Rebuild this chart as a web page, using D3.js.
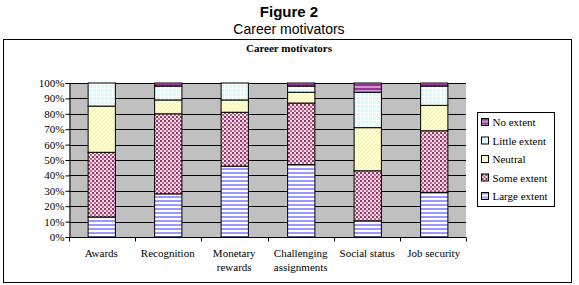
<!DOCTYPE html>
<html>
<head>
<meta charset="utf-8">
<script src="https://cdn.jsdelivr.net/npm/d3@7"></script>
<style>
  body { margin: 0; background: #fff; }
  svg { display: block; }
</style>
</head>
<body>
<div id="chart"></div>
<script>
const categories = [['Awards'], ['Recognition'], ['Monetary', 'rewards'], ['Challenging', 'assignments'], ['Social status'], ['Job security']];
const seriesNames = ['Large extent', 'Some extent', 'Neutral', 'Little extent', 'No extent'];
const largeExtent = [13, 28, 46, 47, 10.5, 29];
const someExtent = [42, 52, 35, 40, 32.5, 40];
const neutral = [30, 9, 8, 7, 28, 16.5];
const littleExtent = [15, 9, 11, 4, 23, 12.5];
const noExtent = [0, 2, 0, 2, 6, 2];
const yTicks = [0, 10, 20, 30, 40, 50, 60, 70, 80, 90, 100];

const width = 579;
const height = 285;
const plot = { left: 69, right: 466, top: 83, bottom: 237 };

const svg = d3.select('#chart').append('svg').attr('width', width).attr('height', height);
const defs = svg.append('defs');

// fill patterns, roughly like the old office ones
function pattern(id, size, bg, draw) {
  const p = defs.append('pattern').attr('id', id).attr('patternUnits', 'userSpaceOnUse')
    .attr('width', size).attr('height', size);
  p.append('rect').attr('width', size).attr('height', size).attr('fill', bg);
  draw(p);
}
pattern('pLarge', 4, '#ffffff', p => p.append('rect').attr('y', 0).attr('width', 4).attr('height', 2).attr('fill', '#9999ff'));
pattern('pSome', 4, '#f3dbe6', p => {
  p.append('rect').attr('x', 0).attr('y', 0).attr('width', 2).attr('height', 2).attr('fill', '#993366');
  p.append('rect').attr('x', 2).attr('y', 2).attr('width', 2).attr('height', 2).attr('fill', '#b9668e');
});
pattern('pNeutral', 4, '#ffffcc', p => p.append('path').attr('d', 'M0,4 L4,0').attr('stroke', '#f0f0c0').attr('stroke-width', 1));
pattern('pLittle', 4, '#ccffff', p => {
  p.append('rect').attr('width', 4).attr('height', 1).attr('fill', '#ffffff');
  p.append('rect').attr('width', 1).attr('height', 4).attr('fill', '#ffffff');
});
pattern('pNo', 4, '#cc99cc', p => p.append('rect').attr('width', 4).attr('height', 2).attr('fill', '#993399'));
const fills = ['url(#pLarge)', 'url(#pSome)', 'url(#pNeutral)', 'url(#pLittle)', 'url(#pNo)'];

// headings
svg.append('text').attr('x', 289).attr('y', 17).attr('text-anchor', 'middle')
  .attr('font-family', 'Liberation Sans, Arial, sans-serif').attr('font-size', 15).attr('font-weight', 'bold')
  .text('Figure 2');
svg.append('text').attr('x', 289).attr('y', 34).attr('text-anchor', 'middle')
  .attr('font-family', 'Liberation Sans, Arial, sans-serif').attr('font-size', 14)
  .text('Career motivators');

// outer chart frame
svg.append('rect').attr('x', 3.5).attr('y', 39.5).attr('width', 568).attr('height', 243)
  .attr('fill', 'none').attr('stroke', '#000').attr('stroke-width', 1);

svg.append('text').attr('x', 289).attr('y', 52).attr('text-anchor', 'middle')
  .attr('font-family', 'Liberation Serif, Times New Roman, serif').attr('font-size', 11).attr('font-weight', 'bold')
  .text('Career motivators');

const x = d3.scaleBand().domain(d3.range(categories.length)).range([plot.left, plot.right]).paddingInner(0.59).paddingOuter(0.28);
const y = d3.scaleLinear().domain([0, 100]).range([plot.bottom, plot.top]);

svg.append('rect').attr('x', plot.left).attr('y', plot.top).attr('width', plot.right - plot.left)
  .attr('height', plot.bottom - plot.top).attr('fill', '#c0c0c0');

svg.append('g').selectAll('line').data(yTicks.slice(1)).join('line')
  .attr('x1', plot.left).attr('x2', plot.right)
  .attr('y1', d => Math.round(y(d)) + 0.5).attr('y2', d => Math.round(y(d)) + 0.5)
  .attr('stroke', '#000');

const rows = categories.map((c, i) => {
  const vals = [largeExtent[i], someExtent[i], neutral[i], littleExtent[i], noExtent[i]];
  let acc = 0;
  return vals.map((v, k) => { const seg = { i, k, y0: acc, y1: acc + v }; acc += v; return seg; });
}).flat().filter(d => d.y1 > d.y0);

svg.append('g').selectAll('rect').data(rows).join('rect')
  .attr('x', d => x(d.i) + 0.5).attr('width', x.bandwidth())
  .attr('y', d => y(d.y1)).attr('height', d => y(d.y0) - y(d.y1))
  .attr('fill', d => fills[d.k]).attr('stroke', '#000').attr('stroke-width', 1);

// axes
const yAxis = svg.append('g').attr('transform', `translate(${plot.left + 0.5},0)`)
  .call(d3.axisLeft(y).tickValues(yTicks).tickSize(4).tickFormat(d => d + '%'));
yAxis.selectAll('text').attr('font-family', 'Liberation Serif, Times New Roman, serif').attr('font-size', 11).attr('fill', '#000').attr('x', -5);

const step = (plot.right - plot.left) / categories.length;
const xAxis = svg.append('g').attr('transform', `translate(0,${plot.bottom + 0.5})`);
xAxis.append('line').attr('x1', plot.left).attr('x2', plot.right).attr('stroke', '#000');
xAxis.selectAll('line.tick').data(d3.range(categories.length + 1)).join('line').attr('class', 'tick')
  .attr('x1', d => Math.round(plot.left + d * step) + 0.5).attr('x2', d => Math.round(plot.left + d * step) + 0.5)
  .attr('y1', 0).attr('y2', 4).attr('stroke', '#000');
const labels = xAxis.selectAll('text').data(categories).join('text')
  .attr('text-anchor', 'middle').attr('font-family', 'Liberation Serif, Times New Roman, serif').attr('font-size', 11)
  .attr('x', (d, i) => x(i) + x.bandwidth() / 2).attr('y', 19);
labels.selectAll('tspan').data(d => d).join('tspan')
  .attr('x', function () { return d3.select(this.parentNode).attr('x'); })
  .attr('dy', (d, j) => j === 0 ? 0 : 14).text(d => d);

// legend
const legend = svg.append('g').attr('transform', 'translate(477.5,112.5)');
legend.append('rect').attr('width', 77).attr('height', 94).attr('fill', '#fff').attr('stroke', '#000');
const order = [4, 3, 2, 1, 0];
const item = legend.selectAll('g').data(order).join('g').attr('transform', (d, j) => `translate(4,${10 + j * 18.5})`);
item.append('rect').attr('x', 0).attr('y', -4).attr('width', 7).attr('height', 7).attr('fill', d => fills[d]).attr('stroke', '#000');
item.append('text').attr('x', 11).attr('y', 3.5).attr('font-family', 'Liberation Serif, Times New Roman, serif').attr('font-size', 11)
  .text(d => seriesNames[d]);
</script>
</body>
</html>
